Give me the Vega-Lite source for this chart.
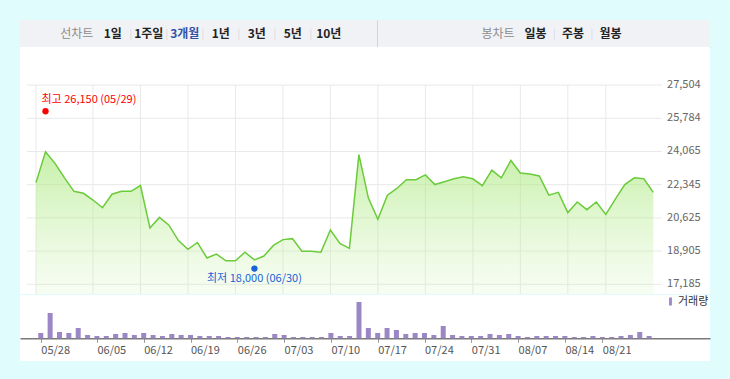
{
  "$schema": "https://vega.github.io/schema/vega-lite/v6.json",
  "background": "#e0fcfc",
  "padding": {"left": 20, "top": 20, "right": 20, "bottom": 19},
  "autosize": {"type": "pad"},
  "spacing": 0,
  "config": {
    "font": "Noto Sans CJK KR",
    "view": {"stroke": null},
    "axis": {"labelFont": "Noto Sans CJK KR"},
    "legend": {"labelFont": "Noto Sans CJK KR"},
    "text": {"font": "Noto Sans CJK KR"}
  },
  "resolve": {"scale": {"color": "independent"}, "legend": {"color": "independent"}},
  "datasets": {
    "tabsL": [
      {"tab": "선차트", "kind": "caption"},
      {"tab": "1일", "kind": "tab"},
      {"tab": "1주일", "kind": "tab"},
      {"tab": "3개월", "kind": "active"},
      {"tab": "1년", "kind": "tab"},
      {"tab": "3년", "kind": "tab"},
      {"tab": "5년", "kind": "tab"},
      {"tab": "10년", "kind": "tab"}
    ],
    "tabsR": [
      {"tab": "봉차트", "kind": "caption"},
      {"tab": "일봉", "kind": "tab"},
      {"tab": "주봉", "kind": "tab"},
      {"tab": "월봉", "kind": "tab"}
    ],
    "hgrid": [{"v": 17185}, {"v": 18905}, {"v": 20625}, {"v": 22345}, {"v": 24065}, {"v": 25784}, {"v": 27504}],
    "weeks": [
      {"i": 0, "date": "05/28"}, {"i": 6, "date": "06/05"}, {"i": 11, "date": "06/12"}, {"i": 16, "date": "06/19"},
      {"i": 21, "date": "06/26"}, {"i": 26, "date": "07/03"}, {"i": 31, "date": "07/10"}, {"i": 36, "date": "07/17"},
      {"i": 41, "date": "07/24"}, {"i": 46, "date": "07/31"}, {"i": 51, "date": "08/07"}, {"i": 56, "date": "08/14"},
      {"i": 60, "date": "08/21"}
    ],
    "extremes": [
      {"i": 1, "value": 26150, "kind": "high", "label": "최고 26,150 (05/29)"},
      {"i": 23, "value": 18000, "kind": "low", "label": "최저 18,000 (06/30)"}
    ],
    "prices": [
      {"i": 0, "date": "05/28", "close": 22450, "volume": 53000},
      {"i": 1, "date": "05/29", "close": 24050, "volume": 253000},
      {"i": 2, "date": "05/30", "close": 23450, "volume": 63000},
      {"i": 3, "date": "05/31", "close": 22700, "volume": 53000},
      {"i": 4, "date": "06/01", "close": 22000, "volume": 103000},
      {"i": 5, "date": "06/02", "close": 21900, "volume": 33000},
      {"i": 6, "date": "06/05", "close": 21550, "volume": 23000},
      {"i": 7, "date": "06/06", "close": 21150, "volume": 23000},
      {"i": 8, "date": "06/07", "close": 21850, "volume": 43000},
      {"i": 9, "date": "06/08", "close": 22000, "volume": 53000},
      {"i": 10, "date": "06/09", "close": 22000, "volume": 33000},
      {"i": 11, "date": "06/12", "close": 22300, "volume": 53000},
      {"i": 12, "date": "06/13", "close": 20100, "volume": 33000},
      {"i": 13, "date": "06/14", "close": 20650, "volume": 23000},
      {"i": 14, "date": "06/15", "close": 20250, "volume": 43000},
      {"i": 15, "date": "06/16", "close": 19450, "volume": 33000},
      {"i": 16, "date": "06/19", "close": 19000, "volume": 33000},
      {"i": 17, "date": "06/20", "close": 19350, "volume": 23000},
      {"i": 18, "date": "06/21", "close": 18550, "volume": 23000},
      {"i": 19, "date": "06/22", "close": 18750, "volume": 23000},
      {"i": 20, "date": "06/23", "close": 18400, "volume": 13000},
      {"i": 21, "date": "06/26", "close": 18400, "volume": 13000},
      {"i": 22, "date": "06/27", "close": 18850, "volume": 13000},
      {"i": 23, "date": "06/28", "close": 18450, "volume": 13000},
      {"i": 24, "date": "06/29", "close": 18650, "volume": 13000},
      {"i": 25, "date": "06/30", "close": 19200, "volume": 43000},
      {"i": 26, "date": "07/03", "close": 19500, "volume": 33000},
      {"i": 27, "date": "07/04", "close": 19550, "volume": 13000},
      {"i": 28, "date": "07/05", "close": 18900, "volume": 13000},
      {"i": 29, "date": "07/06", "close": 18900, "volume": 13000},
      {"i": 30, "date": "07/07", "close": 18850, "volume": 13000},
      {"i": 31, "date": "07/10", "close": 20000, "volume": 53000},
      {"i": 32, "date": "07/11", "close": 19300, "volume": 23000},
      {"i": 33, "date": "07/12", "close": 19050, "volume": 23000},
      {"i": 34, "date": "07/13", "close": 23900, "volume": 363000},
      {"i": 35, "date": "07/14", "close": 21650, "volume": 103000},
      {"i": 36, "date": "07/17", "close": 20550, "volume": 53000},
      {"i": 37, "date": "07/18", "close": 21800, "volume": 103000},
      {"i": 38, "date": "07/19", "close": 22150, "volume": 83000},
      {"i": 39, "date": "07/20", "close": 22600, "volume": 43000},
      {"i": 40, "date": "07/21", "close": 22600, "volume": 53000},
      {"i": 41, "date": "07/24", "close": 22850, "volume": 53000},
      {"i": 42, "date": "07/25", "close": 22350, "volume": 33000},
      {"i": 43, "date": "07/26", "close": 22500, "volume": 123000},
      {"i": 44, "date": "07/27", "close": 22650, "volume": 33000},
      {"i": 45, "date": "07/28", "close": 22750, "volume": 23000},
      {"i": 46, "date": "07/31", "close": 22650, "volume": 23000},
      {"i": 47, "date": "08/01", "close": 22300, "volume": 23000},
      {"i": 48, "date": "08/02", "close": 23100, "volume": 43000},
      {"i": 49, "date": "08/03", "close": 22700, "volume": 33000},
      {"i": 50, "date": "08/04", "close": 23600, "volume": 43000},
      {"i": 51, "date": "08/07", "close": 22950, "volume": 23000},
      {"i": 52, "date": "08/08", "close": 22900, "volume": 13000},
      {"i": 53, "date": "08/09", "close": 22800, "volume": 23000},
      {"i": 54, "date": "08/10", "close": 21800, "volume": 23000},
      {"i": 55, "date": "08/11", "close": 21950, "volume": 23000},
      {"i": 56, "date": "08/14", "close": 20900, "volume": 23000},
      {"i": 57, "date": "08/16", "close": 21450, "volume": 13000},
      {"i": 58, "date": "08/17", "close": 21050, "volume": 13000},
      {"i": 59, "date": "08/18", "close": 21450, "volume": 23000},
      {"i": 60, "date": "08/21", "close": 20800, "volume": 13000},
      {"i": 61, "date": "08/22", "close": 21600, "volume": 13000},
      {"i": 62, "date": "08/23", "close": 22350, "volume": 23000},
      {"i": 63, "date": "08/24", "close": 22700, "volume": 33000},
      {"i": 64, "date": "08/25", "close": 22650, "volume": 63000},
      {"i": 65, "date": "08/28", "close": 21950, "volume": 23000}
    ]
  },
  "vconcat": [
    {
      "hconcat": [
        {
          "width": 357,
          "height": 27,
          "view": {"fill": "#f1f2f6", "stroke": null},
          "data": {"name": "tabsL"},
          "encoding": {
            "x": {
              "field": "tab", "type": "nominal",
              "scale": {"type": "band", "domain": ["선차트", "1일", "1주일", "3개월", "1년", "3년", "5년", "10년"], "paddingInner": 0, "paddingOuter": 0.958, "align": 0.562},
              "axis": {"title": null, "labels": false, "ticks": false, "grid": false, "domain": true, "domainColor": "#c9c9d1", "domainWidth": 1}
            }
          },
          "layer": [
            {"transform": [{"filter": "datum.kind == 'caption'"}], "mark": {"type": "text", "fontSize": 12, "color": "#8c8c8c"}, "encoding": {"text": {"field": "tab"}}},
            {"transform": [{"filter": "datum.kind == 'tab'"}], "mark": {"type": "text", "fontSize": 12, "fontWeight": "bold", "color": "#222222"}, "encoding": {"text": {"field": "tab"}}},
            {"transform": [{"filter": "datum.kind == 'active'"}], "mark": {"type": "text", "fontSize": 12, "fontWeight": "bold", "color": "#3252a6"}, "encoding": {"text": {"field": "tab"}}},
            {"transform": [{"filter": "datum.kind != 'caption' && datum.tab != '1일'"}], "mark": {"type": "text", "text": "|", "fontSize": 10, "color": "#d6d6dc"}, "encoding": {"x": {"field": "tab", "type": "nominal", "bandPosition": 0}}}
          ]
        },
        {
          "width": 333,
          "height": 27,
          "view": {"fill": "#f1f2f6", "stroke": null},
          "data": {"name": "tabsR"},
          "encoding": {
            "x": {
              "field": "tab", "type": "nominal",
              "scale": {"type": "band", "domain": [" ", "  ", "봉차트", "일봉", "주봉", "월봉", "   "], "paddingInner": 0, "paddingOuter": 0.94, "align": 0.387},
              "axis": {"title": null, "labels": false, "ticks": false, "grid": false, "domain": true, "domainColor": "#c9c9d1", "domainWidth": 1}
            },
            "y": {
              "datum": 0.5, "type": "quantitative", "scale": {"domain": [0, 1]},
              "axis": {"title": null, "labels": false, "ticks": false, "grid": false, "domain": true, "domainColor": "#d3d3da", "orient": "left"}
            }
          },
          "layer": [
            {"transform": [{"filter": "datum.kind == 'caption'"}], "mark": {"type": "text", "fontSize": 12, "color": "#8c8c8c"}, "encoding": {"text": {"field": "tab"}}},
            {"transform": [{"filter": "datum.kind == 'tab'"}], "mark": {"type": "text", "fontSize": 12, "fontWeight": "bold", "color": "#222222"}, "encoding": {"text": {"field": "tab"}}},
            {"transform": [{"filter": "datum.kind != 'caption' && datum.tab != '일봉'"}], "mark": {"type": "text", "text": "|", "fontSize": 10, "color": "#d6d6dc"}, "encoding": {"x": {"field": "tab", "type": "nominal", "bandPosition": 0}}}
          ]
        }
      ],
      "spacing": 0
    },
    {
      "width": 690,
      "height": 247,
      "view": {"fill": "white", "stroke": null},
      "layer": [
        {
          "data": {"name": "hgrid"},
          "mark": {"type": "rule", "color": "#e9e9e9", "strokeWidth": 1},
          "encoding": {
            "y": {"field": "v", "type": "quantitative", "scale": {"domain": [16683, 29476], "nice": false, "zero": false}, "axis": null},
            "x": {"datum": -0.948, "type": "quantitative", "scale": {"domain": [-1.685, 70.97], "nice": false, "zero": false}, "axis": null},
            "x2": {"datum": 65.92}
          }
        },
        {
          "data": {"name": "hgrid"},
          "mark": {"type": "text", "align": "left", "baseline": "middle", "fontSize": 11, "color": "#666666"},
          "encoding": {
            "y": {"field": "v", "type": "quantitative", "scale": {"domain": [16683, 29476], "nice": false, "zero": false}, "axis": null},
            "x": {"datum": 66.45, "type": "quantitative", "scale": {"domain": [-1.685, 70.97], "nice": false, "zero": false}, "axis": null},
            "text": {"field": "v", "type": "quantitative", "format": ","}
          }
        },
        {
          "data": {"name": "weeks"},
          "mark": {"type": "rule", "color": "#e9e9e9", "strokeWidth": 1},
          "encoding": {
            "x": {"field": "i", "type": "quantitative", "scale": {"domain": [-1.685, 70.97], "nice": false, "zero": false}, "axis": null},
            "y": {"datum": 27504, "type": "quantitative", "scale": {"domain": [16683, 29476], "nice": false, "zero": false}, "axis": null},
            "y2": {"datum": 16683}
          }
        },
        {
          "data": {"name": "prices"},
          "mark": {
            "type": "area",
            "color": {"gradient": "linear", "x1": 0, "y1": 0, "x2": 0, "y2": 1, "stops": [
              {"offset": 0, "color": "rgba(160,230,110,0.6)"},
              {"offset": 1, "color": "rgba(200,240,170,0.15)"}
            ]}
          },
          "encoding": {
            "x": {"field": "i", "type": "quantitative", "scale": {"domain": [-1.685, 70.97], "nice": false, "zero": false},
              "axis": {"orient": "bottom", "domain": true, "domainColor": "#7a7a7a", "domainWidth": 1.5, "ticks": false, "labels": false, "grid": false, "title": null}},
            "y": {"field": "close", "type": "quantitative", "scale": {"domain": [16683, 29476], "nice": false, "zero": false}, "axis": null},
            "y2": {"datum": 16683}
          }
        },
        {
          "data": {"name": "prices"},
          "mark": {"type": "line", "color": "#6bcb3a", "strokeWidth": 1.5},
          "encoding": {
            "x": {"field": "i", "type": "quantitative", "scale": {"domain": [-1.685, 70.97], "nice": false, "zero": false}, "axis": null},
            "y": {"field": "close", "type": "quantitative", "scale": {"domain": [16683, 29476], "nice": false, "zero": false}, "axis": null}
          }
        },
        {
          "data": {"name": "extremes"},
          "mark": {"type": "point", "filled": true, "size": 40, "opacity": 1},
          "encoding": {
            "x": {"field": "i", "type": "quantitative", "scale": {"domain": [-1.685, 70.97], "nice": false, "zero": false}, "axis": null},
            "y": {"field": "value", "type": "quantitative", "scale": {"domain": [16683, 29476], "nice": false, "zero": false}, "axis": null},
            "color": {"field": "kind", "type": "nominal", "scale": {"domain": ["high", "low"], "range": ["#ff0000", "#1a62d6"]}, "legend": null}
          }
        },
        {
          "data": {"name": "extremes"},
          "transform": [{"filter": "datum.kind == 'high'"}],
          "mark": {"type": "text", "align": "left", "dx": -4, "dy": -11, "fontSize": 11},
          "encoding": {
            "x": {"field": "i", "type": "quantitative", "scale": {"domain": [-1.685, 70.97], "nice": false, "zero": false}, "axis": null},
            "y": {"field": "value", "type": "quantitative", "scale": {"domain": [16683, 29476], "nice": false, "zero": false}, "axis": null},
            "text": {"field": "label"},
            "color": {"field": "kind", "type": "nominal", "scale": {"domain": ["high", "low"], "range": ["#ff0000", "#1a62d6"]}, "legend": null}
          }
        },
        {
          "data": {"name": "extremes"},
          "transform": [{"filter": "datum.kind == 'low'"}],
          "mark": {"type": "text", "align": "center", "dy": 10, "fontSize": 11},
          "encoding": {
            "x": {"field": "i", "type": "quantitative", "scale": {"domain": [-1.685, 70.97], "nice": false, "zero": false}, "axis": null},
            "y": {"field": "value", "type": "quantitative", "scale": {"domain": [16683, 29476], "nice": false, "zero": false}, "axis": null},
            "text": {"field": "label"},
            "color": {"field": "kind", "type": "nominal", "scale": {"domain": ["high", "low"], "range": ["#ff0000", "#1a62d6"]}, "legend": null}
          }
        }
      ]
    },
    {
      "width": 690,
      "height": 66,
      "view": {"fill": "white", "stroke": null},
      "data": {"name": "prices"},
      "mark": {"type": "bar", "size": 5},
      "encoding": {
        "x": {
          "field": "i", "type": "quantitative",
          "scale": {"domain": [-1.685, 70.97], "nice": false, "zero": false},
          "axis": {
            "orient": "bottom", "offset": -22.7, "values": [0, 6, 11, 16, 21, 26, 31, 36, 41, 46, 51, 56, 60],
            "labelExpr": "['05/28','06/05','06/12','06/19','06/26','07/03','07/10','07/17','07/24','07/31','08/07','08/14','08/21'][indexof([0,6,11,16,21,26,31,36,41,46,51,56,60], datum.value)]",
            "domain": true, "domainColor": "#7a7a7a", "domainWidth": 1.5,
            "ticks": true, "tickColor": "#9a9a9a", "tickSize": 4,
            "labelPadding": 2, "labelAlign": "left", "labelFontSize": 11, "labelColor": "#555555",
            "grid": false, "title": null, "labelFlush": false, "labelOverlap": false, "labelBound": false
          }
        },
        "y": {"field": "volume", "type": "quantitative", "scale": {"domain": [-227000, 433000], "nice": false, "zero": false}, "axis": null},
        "y2": {"datum": 0},
        "color": {
          "datum": "거래량", "type": "nominal",
          "scale": {"range": ["#9b86c6"]},
          "legend": {"title": null, "orient": "top-right", "offset": 1, "padding": 0, "symbolType": "M-0.35,-1L0.35,-1L0.35,1L-0.35,1Z", "symbolSize": 64, "symbolStrokeWidth": 0, "labelFontSize": 11, "labelColor": "#333333", "labelOffset": 2}
        }
      }
    }
  ]
}
